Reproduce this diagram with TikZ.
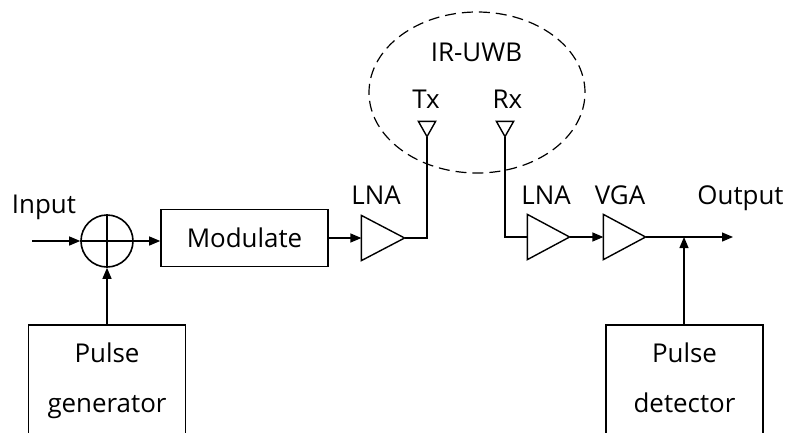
\documentclass[tikz,border=0pt]{standalone}
\usepackage{fontspec}
\setmainfont{Open Sans}
\usetikzlibrary{arrows.meta,shapes.geometric}
\begin{document}
\begin{tikzpicture}[x=1bp,y=-1bp,line width=1.2bp,
  >={Triangle[length=11bp,width=9bp]},
  font=\fontsize{26}{30}\selectfont,
  box/.style={draw,line width=1.6bp,inner sep=0pt},
  ampbox/.style={inner sep=0pt,minimum width=42bp,minimum height=44bp},
  amp/.style={line width=1.4bp},
  antbox/.style={inner sep=0pt,minimum width=16bp,minimum height=14bp},
  lbl/.style={inner sep=0pt,anchor=base},
  tallbox/.style={draw,line width=1.6bp,align=center,minimum width=154bp,text width=150bp,inner ysep=18bp,anchor=north,
     font=\fontsize{26}{50}\selectfont}]
\useasboundingbox (0,0) rectangle (789,432);
\clip (0,0) rectangle (789,432);
% ellipse
\node[draw,dash pattern=on 11bp off 6bp,ellipse,minimum width=216bp,minimum height=161bp,inner sep=0pt] (uwb) at (477,92.5) {};
\node[lbl] (uwbl) at (476.5,61) {IR-UWB};
\node[lbl] (txl) at (426,108) {Tx};
\node[lbl] (rxl) at (507.5,108) {Rx};
% antennas
\node[antbox] (tx) at (427,129) {};
\draw[amp] (tx.north west) -- (tx.north east) -- (tx.south) -- cycle;
\node[antbox] (rx) at (505,129) {};
\draw[amp] (rx.north west) -- (rx.north east) -- (rx.south) -- cycle;
% input side
\coordinate (in) at (32,241);
\node[lbl] (inl) at (44,213) {Input};
\node[draw,line width=1.6bp,circle,minimum size=52bp,inner sep=0pt] (sum) at (107,241) {};
\draw[line width=1.6bp] (sum.north) -- (sum.south) (sum.west) -- (sum.east);
\node[box,minimum width=167bp,minimum height=57bp] (mod) at (244.5,238) {Modulate};
\node[ampbox] (lna1) at (383,238) {};
\draw[amp] (lna1.north west) -- (lna1.east) -- (lna1.south west) -- cycle;
\node[lbl] (lna1l) at (376,204) {LNA};
% receive side
\node[ampbox,minimum width=41bp] (lna2) at (548.5,237) {};
\draw[amp] (lna2.north west) -- (lna2.east) -- (lna2.south west) -- cycle;
\node[lbl] (lna2l) at (546,204) {LNA};
\node[ampbox,minimum width=41bp] (vga) at (624.5,237) {};
\draw[amp] (vga.north west) -- (vga.east) -- (vga.south west) -- cycle;
\node[lbl] (vgal) at (620,204) {VGA};
\coordinate (out) at (733,237);
\coordinate (junc) at (684,237);
\node[lbl] (outl) at (740.5,204) {Output};
% pulse boxes
\node[tallbox] (pgen) at (107,324) {Pulse\\generator\\[10bp]~};
\node[tallbox] (pdet) at (684.5,324) {Pulse\\detector\\[10bp]~};
% connectors
\draw[->] (in) -- (sum.west);
\draw[->] (sum.east) -- (sum.east -| mod.west);
\draw[->] (mod.east |- lna1.west) -- (lna1.west);
\draw (lna1.east) -| (tx.south);
\draw (rx.south) |- (lna2.west);
\draw[->] (lna2.east) -- (vga.west);
\draw[->] (vga.east) -- (out);
\draw[->] (pgen.north) -- (sum.south);
\draw[->] (pdet.north -| junc) -- (junc);
\end{tikzpicture}
\end{document}
